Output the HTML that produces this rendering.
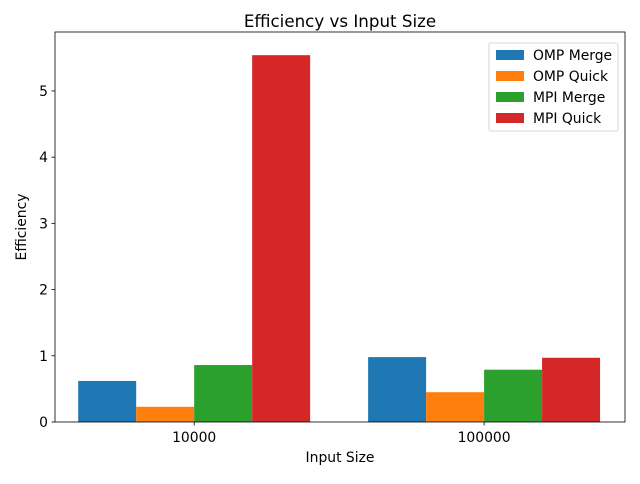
<!DOCTYPE html>
<html><head><meta charset="utf-8"><style>
body{margin:0;background:#fff;font-family:"DejaVu Sans","Liberation Sans",sans-serif}
</style></head><body>
<svg id="chart" width="640" height="480" xmlns="http://www.w3.org/2000/svg" font-family="DejaVu Sans, Liberation Sans, sans-serif"></svg>
<script>
const categories = ["10000", "100000"];
const seriesNames = ["OMP Merge", "OMP Quick", "MPI Merge", "MPI Quick"];
const ompMerge = [0.62, 0.98];
const ompQuick = [0.23, 0.45];
const mpiMerge = [0.86, 0.79];
const mpiQuick = [5.54, 0.97];
const yTicks = [0, 1, 2, 3, 4, 5];
const colors = ["#1f77b4", "#ff7f0e", "#2ca02c", "#d62728"];

const svg = document.getElementById('chart');
const NS = "http://www.w3.org/2000/svg";
const L = 55, R = 625, T = 32, B = 422;
const xMin = -0.480, xMax = 1.486, yMax = 5.89;
const xs = v => L + (v - xMin) / (xMax - xMin) * (R - L);
const ys = v => B - v / yMax * (B - T);
function mk(tag, attrs, text) {
  const e = document.createElementNS(NS, tag);
  for (const k in attrs) e.setAttribute(k, attrs[k]);
  if (text !== undefined) e.textContent = text;
  svg.appendChild(e);
  return e;
}
const series = [ompMerge, ompQuick, mpiMerge, mpiQuick];
const bw = 0.2;
series.forEach((vals, s) => {
  vals.forEach((v, i) => {
    const c = i + (s - 1.5) * bw;
    const x0 = xs(c - bw / 2), x1 = xs(c + bw / 2);
    const r = mk('rect', {x: x0, y: ys(v), width: x1 - x0, height: ys(0) - ys(v), fill: colors[s]});
    
    
  });
});
const frame = mk('rect', {x: L, y: T, width: R - L, height: B - T, fill: 'none', stroke: '#000', 'stroke-width': 0.8});


yTicks.forEach(t => {
  const y = ys(t);
  const tk = mk('line', {x1: L - 3.5, x2: L, y1: y, y2: y, stroke: '#000', 'stroke-width': 0.8});
  
  
  const lb = mk('text', {x: L - 7, y: y + 5, 'text-anchor': 'end', 'font-size': 13.9}, String(t));
  
  
});
categories.forEach((c, i) => {
  const x = xs(i);
  const tk = mk('line', {x1: x, x2: x, y1: B, y2: B + 3.5, stroke: '#000', 'stroke-width': 0.8});
  
  
  const lb = mk('text', {x: x, y: B + 20, 'text-anchor': 'middle', 'font-size': 13.9}, c);
  
  
});
const title = mk('text', {x: (L + R) / 2, y: 27, 'text-anchor': 'middle', 'font-size': 16.7}, 'Efficiency vs Input Size');


const xt = mk('text', {x: (L + R) / 2, y: 462, 'text-anchor': 'middle', 'font-size': 13.9}, 'Input Size');


const yt = mk('text', {x: 26, y: (T + B) / 2, 'text-anchor': 'middle', 'font-size': 13.9, transform: 'rotate(-90 26 ' + (T + B) / 2 + ')'}, 'Efficiency');


const lg = mk('rect', {x: 489, y: 43, width: 129, height: 88, rx: 2, fill: '#fff', 'fill-opacity': 0.8, stroke: '#ccc', 'stroke-width': 0.8});


seriesNames.forEach((n, s) => {
  const y = 55 + s * 21;
  const p = mk('rect', {x: 496, y: y - 5, width: 28, height: 10, fill: colors[s]});
  
  
  const t = mk('text', {x: 533, y: y + 5, 'font-size': 13.9}, n);
  
  
});
</script>
</body></html>
